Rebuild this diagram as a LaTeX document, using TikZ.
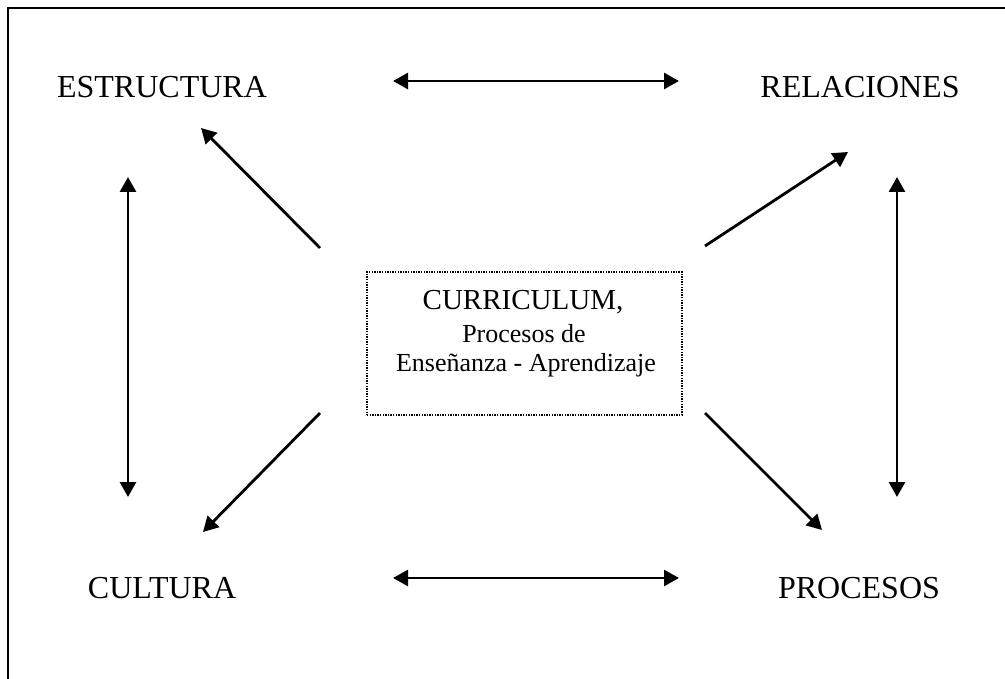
\documentclass[tikz,border=0pt]{standalone}
\usepackage{fontspec}
\setmainfont{Liberation Serif}
\usetikzlibrary{arrows.meta}
\begin{document}
\begin{tikzpicture}[x=1pt,y=-1pt,
  corner/.style={inner sep=0pt,anchor=base,font=\fontsize{32}{38}\selectfont},
  conn/.style={line width=2.8pt,-{Triangle[length=15pt,width=16pt]}},
  bconn/.style={line width=2.8pt,{Triangle[length=15pt,width=16pt]}-{Triangle[length=15pt,width=16pt]}},
  centerbox/.style={draw,line width=1.3pt,dash pattern=on 1.4pt off 1.2pt,minimum width=315pt,minimum height=143pt}]
\useasboundingbox (0,0) rectangle (1005,679);
\draw[line width=2.2pt] (8,679) -- (8,8) -- (1005,8);
% corner labels
\node[corner] (est) at (162,98) {ESTRUCTURA};
\node[corner] (rel) at (860,98) {RELACIONES};
\node[corner] (cul) at (162,598) {CULTURA};
\node[corner] (pro) at (859,598) {PROCESOS};
% center box
\node[centerbox] (cur) at (524.5,343.5) {};
\node[inner sep=0pt,anchor=base,font=\fontsize{29}{34}\selectfont] (t1) at (523,310) {CURRICULUM,};
\node[inner sep=0pt,anchor=base,font=\fontsize{26}{30}\selectfont] (t2) at (524,342) {Procesos de};
\node[inner sep=0pt,anchor=base,font=\fontsize{26}{30}\selectfont] (t3) at (526,371) {Enseñanza - Aprendizaje};
% arrow endpoints
\coordinate (th1) at (393,81); \coordinate (th2) at (679,81);
\coordinate (bh1) at (393,578); \coordinate (bh2) at (679,578);
\coordinate (lv1) at (128,177); \coordinate (lv2) at (128,497);
\coordinate (rv1) at (897,177); \coordinate (rv2) at (897,497);
\coordinate (d1s) at (320,248); \coordinate (d1e) at (201,128);
\coordinate (d2s) at (705,246); \coordinate (d2e) at (848,152);
\coordinate (d3s) at (320,413); \coordinate (d3e) at (203,532);
\coordinate (d4s) at (705,413); \coordinate (d4e) at (822,530);
% connectors
\draw[bconn] (th1) -- (th2);
\draw[bconn] (bh1) -- (bh2);
\draw[bconn] (lv1) -- (lv2);
\draw[bconn] (rv1) -- (rv2);
\draw[conn] (d1s) -- (d1e);
\draw[conn] (d2s) -- (d2e);
\draw[conn] (d3s) -- (d3e);
\draw[conn] (d4s) -- (d4e);
\end{tikzpicture}
\end{document}
